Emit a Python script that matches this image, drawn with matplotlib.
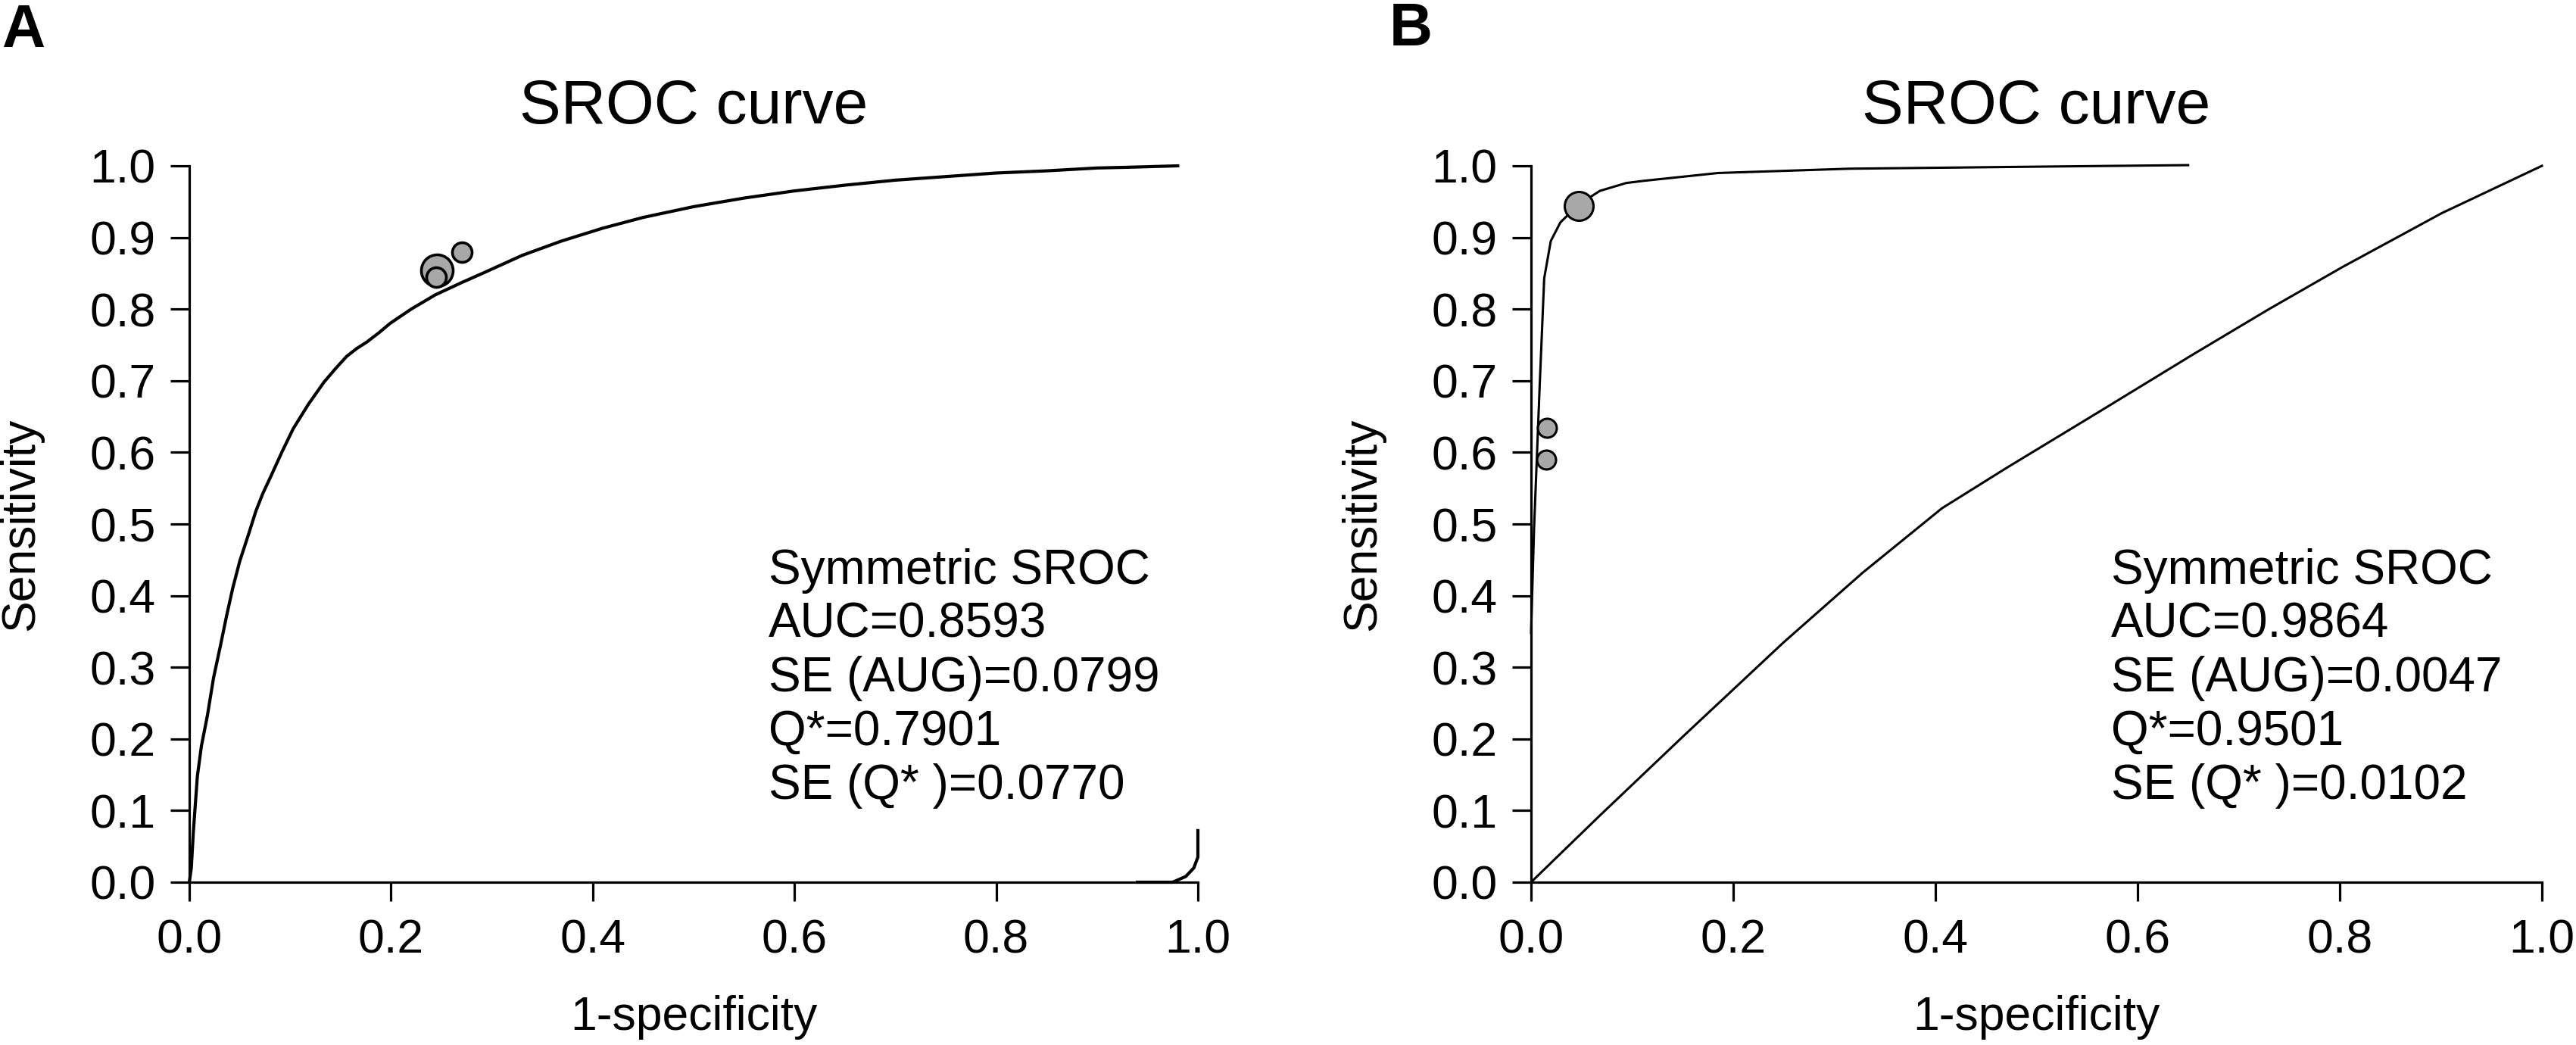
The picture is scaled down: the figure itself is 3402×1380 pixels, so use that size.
import matplotlib
matplotlib.use("Agg")
import matplotlib.pyplot as plt

plt.rcParams['font.family'] = ['Liberation Sans', 'DejaVu Sans']

# ---------------- data ----------------
# Panel A: SROC curve
a_curve_x = [0.0, 0.002, 0.004, 0.008, 0.012, 0.018, 0.024, 0.031, 0.037, 0.043,
             0.05, 0.0595, 0.066, 0.073, 0.081, 0.092, 0.103, 0.118, 0.1335, 0.145,
             0.156, 0.166, 0.176, 0.188, 0.199, 0.22, 0.244, 0.27, 0.294, 0.33,
             0.369, 0.41, 0.45, 0.5, 0.55, 0.6, 0.65, 0.7, 0.75, 0.8, 0.85, 0.9,
             0.93, 0.98]
a_curve_y = [0.0, 0.02, 0.07, 0.148, 0.19, 0.233, 0.285, 0.331, 0.372, 0.410,
             0.448, 0.489, 0.518, 0.543, 0.567, 0.601, 0.633, 0.667, 0.698, 0.717,
             0.734, 0.745, 0.754, 0.767, 0.780, 0.80, 0.820, 0.837, 0.852, 0.875,
             0.895, 0.913, 0.928, 0.943, 0.955, 0.965, 0.973, 0.98, 0.985, 0.99,
             0.993, 0.997, 0.998, 1.0]
# Panel A: wrap-around piece near x = 1
a_hook_x = [0.94, 0.975, 0.988, 0.996, 1.0, 1.0]
a_hook_y = [0.0, 0.0, 0.008, 0.02, 0.035, 0.072]
# Panel A: study points (x, y, relative size)
a_pts_x = [0.2454, 0.2444, 0.270]
a_pts_y = [0.854, 0.845, 0.879]
a_pts_size = [42, 26, 26]

# Panel B: SROC curve
b_curve_x = [0.0, 0.003, 0.0085, 0.013, 0.0195, 0.029, 0.047, 0.068, 0.094, 0.111,
             0.185, 0.315, 0.51, 0.65]
b_curve_y = [0.348, 0.495, 0.692, 0.843, 0.895, 0.921, 0.946, 0.965, 0.976, 0.979,
             0.990, 0.996, 0.999, 1.001]
# Panel B: second line
b_line_x = [0.0, 0.068, 0.153, 0.25, 0.328, 0.4065, 0.47, 0.56, 0.654, 0.73,
            0.803, 0.901, 1.0]
b_line_y = [0.0, 0.093, 0.207, 0.335, 0.432, 0.522, 0.578, 0.655, 0.736, 0.80,
            0.859, 0.934, 1.0]
# Panel B: study points
b_pts_x = [0.0475, 0.016, 0.015]
b_pts_y = [0.944, 0.634, 0.590]
b_pts_size = [38, 25, 25]

ticks = [0.0, 0.2, 0.4, 0.6, 0.8, 1.0]
yticks = [0.0, 0.1, 0.2, 0.3, 0.4, 0.5, 0.6, 0.7, 0.8, 0.9, 1.0]

a_text = ["Symmetric SROC", "AUC=0.8593", "SE (AUG)=0.0799", "Q*=0.7901", "SE (Q* )=0.0770"]
b_text = ["Symmetric SROC", "AUC=0.9864", "SE (AUG)=0.0047", "Q*=0.9501", "SE (Q* )=0.0102"]

# ---------------- figure ----------------
W, H = 3402, 1380
fig = plt.figure(figsize=(W / 100, H / 100), dpi=100)

def px_to_fig(x0, x1, ytop, ybot):
    return [x0 / W, 1 - ybot / H, (x1 - x0) / W, (ybot - ytop) / H]

axA = fig.add_axes(px_to_fig(250, 1582, 219, 1165))
axB = fig.add_axes(px_to_fig(2022, 3357, 219, 1165))

TICK_FS = 45
LW_AX = 2.3


def style(ax):
    ax.set_xlim(0, 1)
    ax.set_ylim(0, 1)
    for s in ['top', 'right']:
        ax.spines[s].set_visible(False)
    for s in ['left', 'bottom']:
        ax.spines[s].set_linewidth(LW_AX)
    ax.set_xticks(ticks)
    ax.set_xticklabels([f"{t:.1f}" for t in ticks])
    ax.set_yticks(yticks)
    ax.set_yticklabels([f"{t:.1f}" for t in yticks])
    ax.tick_params(axis='both', direction='out', length=18, width=LW_AX,
                   labelsize=TICK_FS)
    ax.tick_params(axis='x', pad=16)
    ax.tick_params(axis='y', pad=14)
    ax.set_title("SROC curve", fontsize=59, pad=40)
    ax.set_xlabel("1-specificity", fontsize=TICK_FS, labelpad=31)
    ax.set_ylabel("Sensitivity", fontsize=TICK_FS, labelpad=44)
    ax.patch.set_alpha(0)


style(axA)
style(axB)

# Panel A
axA.plot(a_curve_x, a_curve_y, color='black', lw=3.0, clip_on=False,
         solid_joinstyle='round', zorder=3)
axA.plot(a_hook_x, a_hook_y, color='black', lw=3.0, clip_on=False,
         solid_joinstyle='round', zorder=3)
for x, y, d in zip(a_pts_x, a_pts_y, a_pts_size):
    axA.plot([x], [y], 'o', ms=d * 0.72, mfc='#a8a8a8', mec='black', mew=2.6,
             clip_on=False, zorder=4)

# Panel B
axB.plot(b_curve_x, b_curve_y, color='black', lw=2.2, clip_on=False,
         solid_joinstyle='round', zorder=3)
axB.plot(b_line_x, b_line_y, color='black', lw=2.2, clip_on=False,
         solid_joinstyle='round', zorder=3)
for x, y, d in zip(b_pts_x, b_pts_y, b_pts_size):
    axB.plot([x], [y], 'o', ms=d * 0.72, mfc='#a8a8a8', mec='black', mew=2.2,
             clip_on=False, zorder=4)

# Text blocks
line_step = 71 / 946
for ax, lines in ((axA, a_text), (axB, b_text)):
    y0 = (1165 - 771) / 946
    for i, s in enumerate(lines):
        ax.text(0.574, y0 - i * line_step, s, fontsize=46, ha='left',
                va='baseline', transform=ax.transAxes)

# Panel letters
fig.text(2 / W, 1 - 62 / H, "A", fontsize=57, fontweight='bold', ha='left', va='baseline')
fig.text(1835 / W, 1 - 60 / H, "B", fontsize=57, fontweight='bold', ha='left', va='baseline')

fig.savefig("out.png", dpi=100, facecolor='white')
